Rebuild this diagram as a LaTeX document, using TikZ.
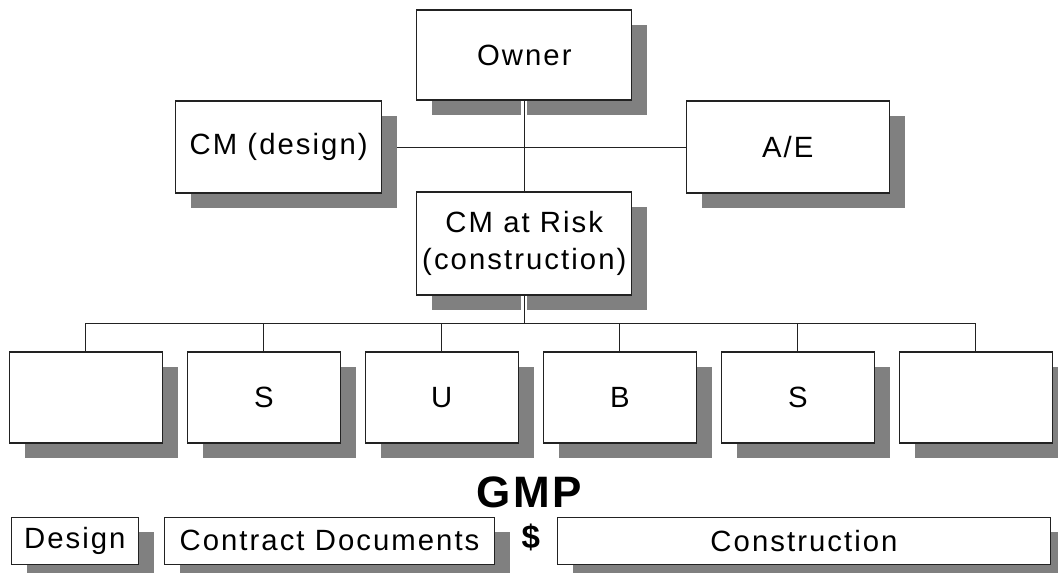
\documentclass[tikz,border=0pt]{standalone}
\usepackage{fontspec}
\setmainfont{Liberation Sans}[LetterSpace=7]
\usetikzlibrary{shadows}
\pgfdeclarelayer{background}
\pgfsetlayers{background,main}
\definecolor{shadowgray}{HTML}{808080}
\definecolor{edgegray}{HTML}{222222}
\tikzset{
  orgbox/.style={draw=edgegray, line width=1.1pt, fill=white, inner sep=0pt,
    align=center, font=\fontsize{29.3}{37.5}\selectfont,
    drop shadow={shadow xshift=15.5pt, shadow yshift=-14.5pt, fill=shadowgray, opacity=1}},
  link/.style={draw=edgegray, line width=1pt},
  halo/.style={draw=white, line width=6pt}
}
\begin{document}
\begin{tikzpicture}[x=1pt, y=-1pt]
  \useasboundingbox (0,0) rectangle (1058,573);

  % top of the chart
  \node[orgbox, minimum width=215pt, minimum height=90pt] (owner) at (524.3,55) {Owner};
  \node[orgbox, minimum width=206pt, minimum height=92pt] (cmd) at (278.7,147) {CM (design)};
  \node[orgbox, minimum width=203pt, minimum height=92pt] (ae) at (787.7,147) {A/E};
  \node[orgbox, minimum width=215pt, minimum height=103pt] (cmr) at (524.3,243.5) {CM at Risk\\(construction)};

  % trade contractors
  \foreach \i/\t in {1/{}, 2/S, 3/U, 4/B, 5/S, 6/{}} {
    \node[orgbox, minimum width=153pt, minimum height=91pt] (b\i) at ({85.8+178*(\i-1)},397.5) {\t};
  }

  % project phases
  \node[orgbox, minimum width=127pt, minimum height=47pt] (design) at (74.8,540.8) {Design};
  \node[orgbox, minimum width=330pt, minimum height=47pt] (contract) at (329.5,540.8) {Contract Documents};
  \node[orgbox, minimum width=493pt, minimum height=47pt] (constr) at (804,540.8) {Construction};
  \node[font=\fontsize{33}{33}\selectfont\bfseries, inner sep=0pt] (dollar) at (530.7,537) {\$};
  \node[font=\fontsize{44}{44}\selectfont\bfseries\addfontfeatures{LetterSpace=6}, inner sep=0pt] (gmp) at (529.3,492.5) {GMP};

  % connectors
  \begin{pgfonlayer}{background}
    \fill[white] (0,0) rectangle (1058,573);
    \draw[link] (cmd.east) -- (ae.west);
  \end{pgfonlayer}
  \draw[halo] (owner.south) -- ++(0,15.5);
  \draw[halo] (cmr.south) -- ++(0,14.5);
  \draw[link] (owner.south) -- (cmr.north);
  \coordinate (bus) at (0,323);
  \draw[link] (cmr.south) -- (cmr.south |- bus);
  \draw[link] (b1.north) -- (b1.north |- bus) -| (b6.north);
  \foreach \i in {2,...,5} {
    \draw[link] (b\i.north) -- (b\i.north |- bus);
  }
\end{tikzpicture}
\end{document}
